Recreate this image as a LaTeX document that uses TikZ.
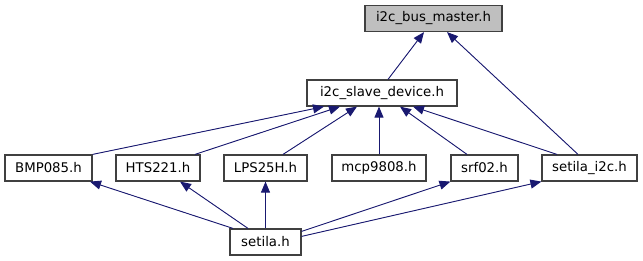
\documentclass[tikz,border=0pt]{standalone}
\usepackage{fontspec}
\setmainfont{DejaVu Sans}
\usepackage{tikz}
\usetikzlibrary{arrows.meta}
\definecolor{edgeblue}{RGB}{25,25,112}
\definecolor{rootgray}{RGB}{191,191,191}

\begin{document}
\begin{tikzpicture}[x=1pt, y=-1pt,
      file/.style={draw=black!75, line width=1.2pt, minimum height=26pt, inner sep=0pt,
                   font=\fontsize{13.3}{16}\selectfont, fill=white},
      dep/.style={<-, >={Triangle[length=11pt, width=9pt]}, draw=edgeblue, fill=edgeblue, line width=0.9pt}
    ]
    \useasboundingbox (0,0) rectangle (643,261);
    % header files
    \node[file, fill=rootgray, minimum width=137pt] (master) at (433.5,18.5) {i2c\_bus\_master.h};
    \node[file, minimum width=150pt] (slave) at (382,93) {i2c\_slave\_device.h};
    \node[file, minimum width=87pt] (bmp) at (48.5,168) {BMP085.h};
    \node[file, minimum width=84pt] (hts) at (158,168) {HTS221.h};
    \node[file, minimum width=83pt] (lps) at (265.5,168) {LPS25H.h};
    \node[file, minimum width=94pt] (mcp) at (379,168) {mcp9808.h};
    \node[file, minimum width=67pt] (srf) at (484.5,168) {srf02.h};
    \node[file, minimum width=95pt] (si2c) at (589.5,168) {setila\_i2c.h};
    \node[file, minimum width=71pt] (setila) at (265.5,242) {setila.h};
    % includes
    \draw[dep] ([xshift=-9.5pt]master.south) -- ([xshift=6pt]slave.north);
    \draw[dep] ([xshift=13.5pt]master.south) -- ([xshift=-11.5pt]si2c.north);
    \draw[dep] ([xshift=-58pt]slave.south) -- (bmp.north east);
    \draw[dep] ([xshift=-42pt]slave.south) -- ([xshift=37pt]hts.north);
    \draw[dep] ([xshift=-25pt]slave.south) -- ([xshift=17.5pt]lps.north);
    \draw[dep] ([xshift=-3pt]slave.south) -- (mcp.north);
    \draw[dep] ([xshift=18pt]slave.south) -- ([xshift=-17.5pt]srf.north);
    \draw[dep] ([xshift=31pt]slave.south) -- ([xshift=-32.5pt]si2c.north);
    \draw[dep] ([xshift=41.5pt]bmp.south) -- ([xshift=-32.5pt]setila.north);
    \draw[dep] ([xshift=22pt]hts.south) -- ([xshift=-17.5pt]setila.north);
    \draw[dep] (lps.south) -- (setila.north);
    \draw[dep] (srf.south west) -- ([yshift=-3pt]setila.north east);
    \draw[dep] (si2c.south west) -- ([yshift=-8pt]setila.north east);
  \end{tikzpicture}
\end{document}
